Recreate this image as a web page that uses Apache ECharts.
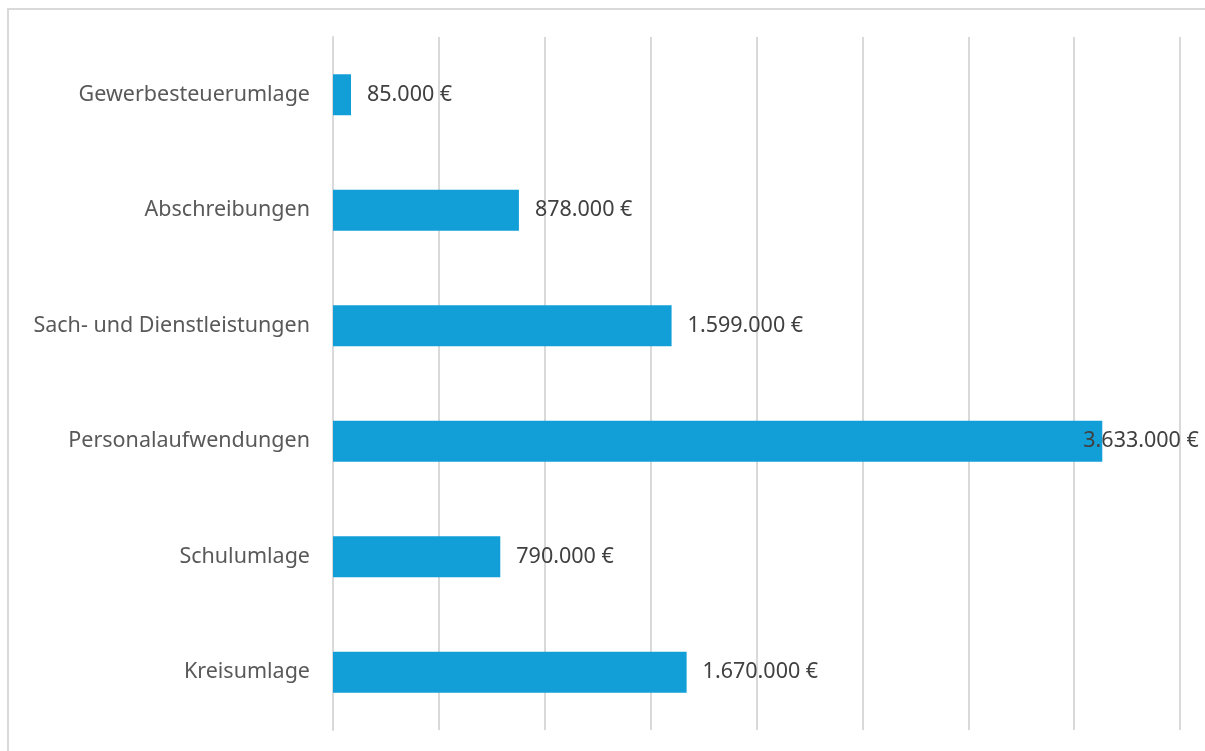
<!DOCTYPE html>
<html>
<head>
    <meta charset="UTF-8">
    <title>Aufwendungen</title>
    <script src="https://cdn.jsdelivr.net/npm/echarts@6/dist/echarts.min.js"></script>
    <style>
        html, body { margin: 0; padding: 0; background: #fff; }
        #frame { position: absolute; left: 7px; top: 8px; width: 1300px; height: 800px; border-left: 2px solid #d9d9d9; border-top: 2px solid #d9d9d9; }
        #main { position: absolute; left: 0; top: 0; width: 1205px; height: 751px; }
    </style>
</head>
<body>
    <div id="frame"></div>
    <div id="main"></div>
    <script type="text/javascript">
        // Kategorien von unten nach oben
        var categories = ['Kreisumlage', 'Schulumlage', 'Personalaufwendungen', 'Sach- und Dienstleistungen', 'Abschreibungen', 'Gewerbesteuerumlage'];
        var values = [1670000, 790000, 3633000, 1599000, 878000, 85000];

        function euro(v) {
            return String(v).replace(/\B(?=(\d{3})+(?!\d))/g, '.') + ' €';
        }

        var chart = echarts.init(document.getElementById('main'));

        var data = values.map(function (v, i) {
            var item = { value: v };
            // Excel setzt das längste Label teilweise in den Balken
            if (v === 3633000) {
                item.label = { distance: -19 };
            }
            return item;
        });

        chart.setOption({
            animation: false,
            grid: { left: 333, right: 25, top: 37, bottom: 21 },
            xAxis: {
                type: 'value',
                min: 0,
                max: 4000000,
                interval: 500000,
                axisLabel: { show: false },
                axisTick: { show: false },
                axisLine: { show: false },
                splitLine: { lineStyle: { color: '#d9d9d9', width: 2 } }
            },
            yAxis: {
                type: 'category',
                data: categories,
                axisTick: { show: false },
                axisLine: { show: true, lineStyle: { color: '#d9d9d9', width: 2 } },
                axisLabel: {
                    color: '#595959',
                    fontSize: 21.5,
                    fontFamily: 'Noto Sans',
                    margin: 23,
                    padding: [6, 0, 0, 0]
                }
            },
            series: [{
                type: 'bar',
                data: data,
                barWidth: 41,
                itemStyle: { color: '#129fd8' },
                label: {
                    show: true,
                    position: 'right',
                    distance: 16,
                    color: '#404040',
                    fontSize: 21.5,
                    fontFamily: 'Noto Sans',
                    padding: [6, 0, 0, 0],
                    formatter: function (p) { return euro(p.value); }
                }
            }]
        });
    </script>
</body>
</html>
